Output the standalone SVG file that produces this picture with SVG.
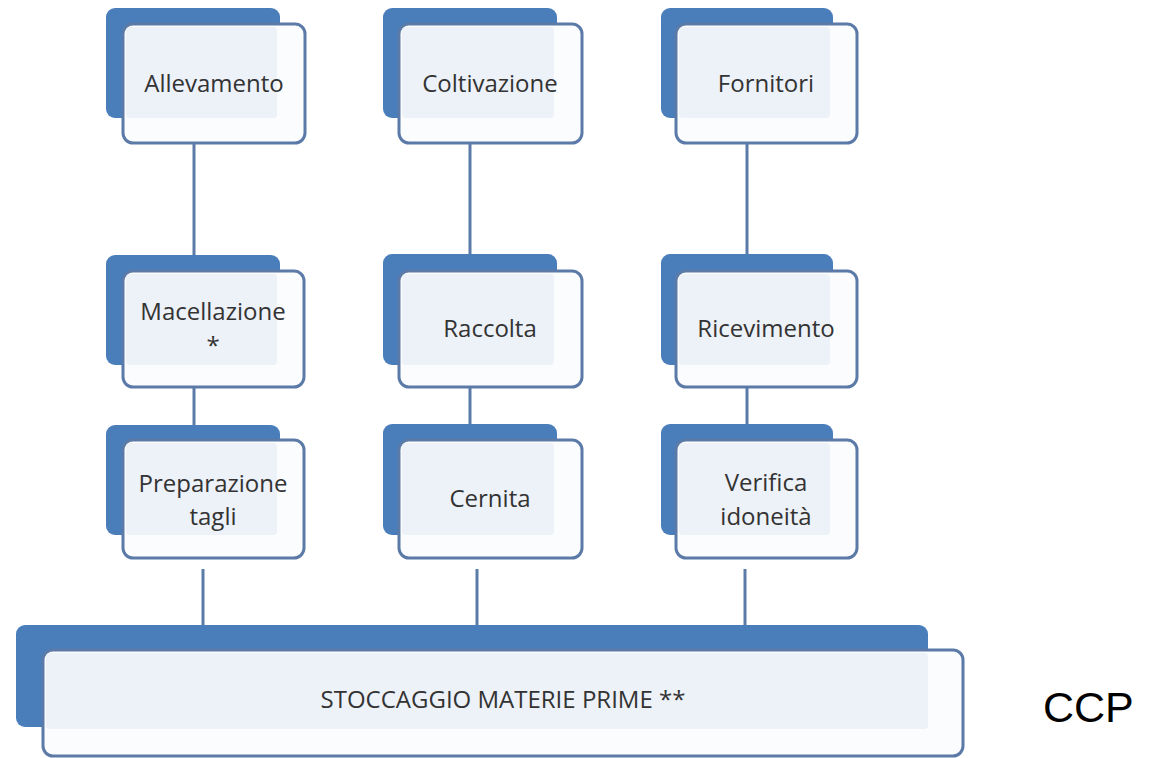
<svg xmlns="http://www.w3.org/2000/svg" width="1150" height="758" viewBox="0 0 1150 758">
<style>
.back{fill:#4a7ebb;}
.front{fill:#fafcfe;stroke:#5b7aa8;stroke-width:3;}
.inner{fill:#edf1f8;}
.lbl{font-family:"Open Sans","Liberation Sans",sans-serif;font-size:24px;fill:#333333;text-anchor:middle;}
.conn line{stroke:#5a7aa8;stroke-width:3;}
</style>
<rect width="1150" height="758" fill="#ffffff"/>
<g id="connectors" class="conn">
<line x1="194" y1="143" x2="194" y2="256"/>
<line x1="194" y1="387" x2="194" y2="426"/>
<line x1="203" y1="569" x2="203" y2="626"/>
<line x1="470" y1="143" x2="470" y2="255"/>
<line x1="470" y1="387" x2="470" y2="425"/>
<line x1="477" y1="569" x2="477" y2="626"/>
<line x1="747" y1="143" x2="747" y2="255"/>
<line x1="747" y1="387" x2="747" y2="425"/>
<line x1="745" y1="569" x2="745" y2="626"/>
</g>
<g id="allevamento">
<rect class="back" x="106" y="8" width="174" height="110" rx="9"/>
<rect class="front" x="123" y="24" width="182" height="119" rx="10"/>
<rect class="inner" x="126" y="27" width="151" height="91" rx="4"/>
<text class="lbl" x="214" y="92">Allevamento</text>
</g>
<g id="coltivazione">
<rect class="back" x="383" y="8" width="174" height="110" rx="9"/>
<rect class="front" x="399" y="24" width="183" height="119" rx="10"/>
<rect class="inner" x="402" y="27" width="152" height="91" rx="4"/>
<text class="lbl" x="490" y="92">Coltivazione</text>
</g>
<g id="fornitori">
<rect class="back" x="661" y="8" width="172" height="110" rx="9"/>
<rect class="front" x="676" y="24" width="181" height="119" rx="10"/>
<rect class="inner" x="679" y="27" width="151" height="91" rx="4"/>
<text class="lbl" x="766" y="92">Fornitori</text>
</g>
<g id="macellazione">
<rect class="back" x="106" y="255" width="174" height="110" rx="9"/>
<rect class="front" x="123" y="271" width="181" height="116" rx="10"/>
<rect class="inner" x="126" y="274" width="151" height="91" rx="4"/>
<text class="lbl" x="213" y="320">Macellazione</text>
<text class="lbl" x="213" y="354">*</text>
</g>
<g id="raccolta">
<rect class="back" x="383" y="254" width="174" height="111" rx="9"/>
<rect class="front" x="399" y="271" width="183" height="116" rx="10"/>
<rect class="inner" x="402" y="274" width="152" height="91" rx="4"/>
<text class="lbl" x="490" y="337">Raccolta</text>
</g>
<g id="ricevimento">
<rect class="back" x="661" y="254" width="172" height="111" rx="9"/>
<rect class="front" x="676" y="271" width="181" height="116" rx="10"/>
<rect class="inner" x="679" y="274" width="151" height="91" rx="4"/>
<text class="lbl" x="766" y="337">Ricevimento</text>
</g>
<g id="preparazione">
<rect class="back" x="106" y="425" width="174" height="110" rx="9"/>
<rect class="front" x="123" y="440" width="181" height="118" rx="10"/>
<rect class="inner" x="126" y="443" width="151" height="92" rx="4"/>
<text class="lbl" x="213" y="492">Preparazione</text>
<text class="lbl" x="213" y="525">tagli</text>
</g>
<g id="cernita">
<rect class="back" x="383" y="424" width="174" height="111" rx="9"/>
<rect class="front" x="399" y="440" width="183" height="118" rx="10"/>
<rect class="inner" x="402" y="443" width="152" height="92" rx="4"/>
<text class="lbl" x="490" y="507">Cernita</text>
</g>
<g id="verifica">
<rect class="back" x="661" y="424" width="172" height="111" rx="9"/>
<rect class="front" x="676" y="440" width="181" height="118" rx="10"/>
<rect class="inner" x="679" y="443" width="151" height="92" rx="4"/>
<text class="lbl" x="766" y="491">Verifica</text>
<text class="lbl" x="766" y="525">idoneità</text>
</g>
<g id="stoccaggio">
<rect class="back" x="16" y="625" width="912" height="102" rx="9"/>
<rect class="front" x="43" y="650" width="920" height="106" rx="10"/>
<rect class="inner" x="46" y="653" width="882" height="76" rx="4"/>
<text class="lbl" x="503" y="708">STOCCAGGIO MATERIE PRIME **</text>
</g>
<g id="ccp">
<text x="1043" y="722" font-family="Liberation Sans, Arial, sans-serif" font-size="43" fill="#000000">CCP</text>
</g>
</svg>
